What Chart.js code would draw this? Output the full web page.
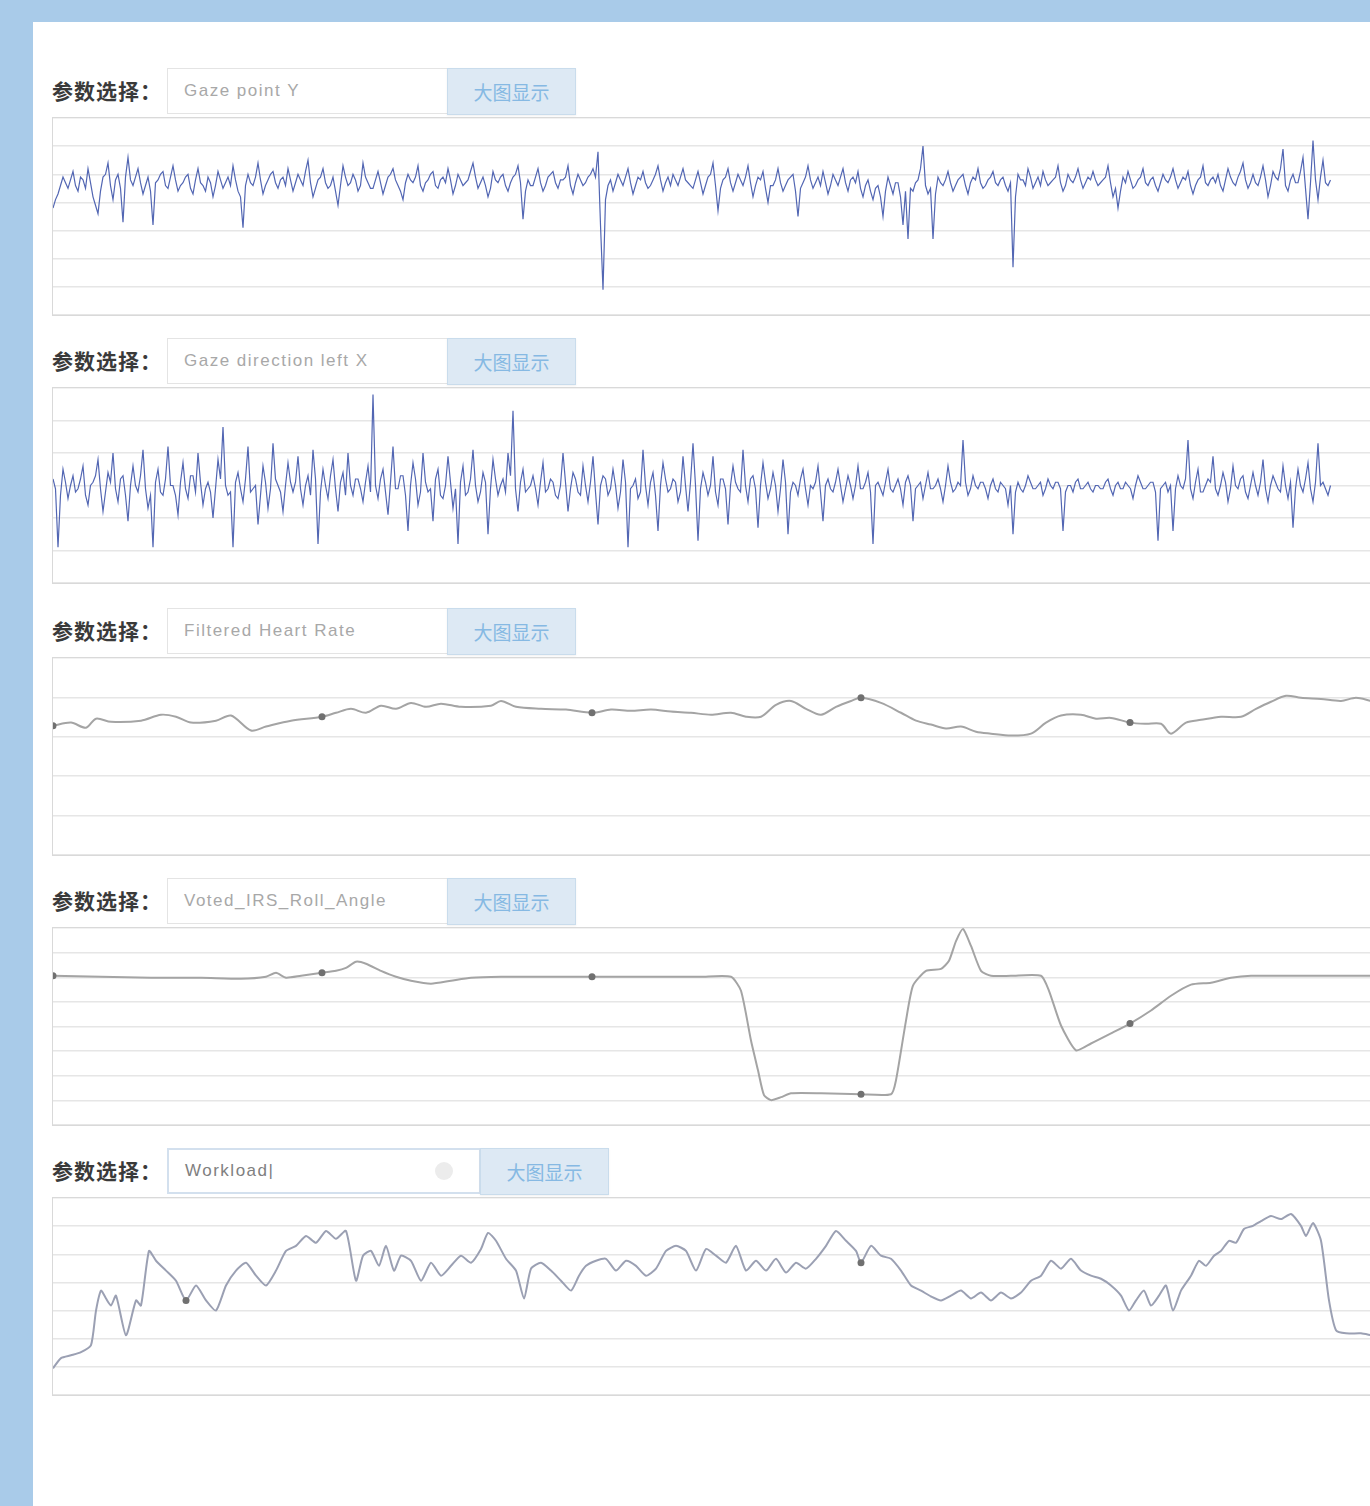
<!DOCTYPE html>
<html>
<head>
<meta charset="utf-8">
<script src="https://cdn.jsdelivr.net/npm/chart.js@4.4.1/dist/chart.umd.min.js"></script>
<style>
  html, body { margin:0; padding:0; overflow:hidden; }
  body { width:1370px; height:1506px; background:#a9cbe9; position:relative; font-family:"Liberation Sans", Arial, sans-serif; }
  #page { position:absolute; left:33px; top:22px; width:1400px; height:1500px; background:#ffffff; }
  .row { position:absolute; left:0; width:1400px; }
  .lbl { position:absolute; left:19px; top:0; height:46px; line-height:44px; font-family:"Noto Sans CJK SC", sans-serif; font-weight:bold; font-size:21px; letter-spacing:1px; color:#3a3a3a; }
  .inp { position:absolute; left:134px; top:0; width:279px; height:44px; border:1px solid #e4e4e4; border-right:none; box-sizing:content-box; line-height:44px; padding-left:16px; font-size:17px; letter-spacing:1.5px; color:#a8a8a8; background:#fff; }
  .btn { position:absolute; left:414px; top:0; width:127px; height:45px; border:1px solid #c9dcec; background:#dde9f4; text-align:center; line-height:45px; font-family:"Noto Sans CJK SC", sans-serif; font-size:19px; color:#86b9e3; box-shadow:0 1px 2px rgba(0,0,0,0.06); }
  .box { position:absolute; left:19px; top:49px; width:1360px; border:1px solid #d9d9d9; background:#fff; }
  .cw { position:relative; width:1318px; }
  .inp.sel { width:294px; border:2px solid #d3e0ee; height:42px; line-height:42px; color:#808080; }
  .clr { position:absolute; left:266px; top:12px; width:18px; height:18px; border-radius:50%; background:#ececec; }
  .btn.b5 { left:447px; }
</style>
</head>
<body>
<div id="page">
  <div class="row" style="top:46px">
    <div class="lbl">参数选择：</div>
    <div class="inp">Gaze point Y</div>
    <div class="btn">大图显示</div>
    <div class="box" style="height:197px"><div class="cw" style="height:197px"><canvas id="c1"></canvas></div></div>
  </div>
  <div class="row" style="top:316px">
    <div class="lbl">参数选择：</div>
    <div class="inp">Gaze direction left X</div>
    <div class="btn">大图显示</div>
    <div class="box" style="height:195px"><div class="cw" style="height:195px"><canvas id="c2"></canvas></div></div>
  </div>
  <div class="row" style="top:586px">
    <div class="lbl">参数选择：</div>
    <div class="inp">Filtered Heart Rate</div>
    <div class="btn">大图显示</div>
    <div class="box" style="height:197px"><div class="cw" style="height:197px"><canvas id="c3"></canvas></div></div>
  </div>
  <div class="row" style="top:856px">
    <div class="lbl">参数选择：</div>
    <div class="inp">Voted_IRS_Roll_Angle</div>
    <div class="btn">大图显示</div>
    <div class="box" style="height:197px"><div class="cw" style="height:197px"><canvas id="c4"></canvas></div></div>
  </div>
  <div class="row" style="top:1126px">
    <div class="lbl">参数选择：</div>
    <div class="inp sel">Workload|<span class="clr"></span></div>
    <div class="btn b5">大图显示</div>
    <div class="box" style="height:197px"><div class="cw" style="height:197px"><canvas id="c5"></canvas></div></div>
  </div>
</div>
<script>
// ---------- DATA ----------
const xMax = 1318;            // visible time span (frames)
const gazeStep = 2.5;         // sampling interval of the gaze channels (frames)

const gazePointY = [
3.8,4.1,4.3,4.6,4.9,4.7,4.5,4.8,5.1,4.6,4.4,4.9,4.8,4.5,5.2,4.7,4.2,3.9,3.6,4.4,4.9,5.0,5.4,4.6,4.1,4.8,5.0,4.5,3.3,4.9,5.6,4.8,
4.6,4.9,5.2,4.7,4.3,4.6,4.9,4.4,3.2,4.7,4.8,5.0,5.1,4.6,4.5,4.9,5.3,4.8,4.4,4.6,4.7,4.9,5.0,4.5,4.3,4.8,5.2,4.7,4.6,4.4,4.9,4.7,
4.2,4.6,5.1,4.8,4.5,4.7,4.9,4.6,5.3,4.8,4.4,4.2,3.1,4.6,5.0,4.7,4.6,4.9,5.4,4.8,4.3,4.6,4.8,5.0,5.1,4.7,4.5,4.8,4.9,4.6,5.2,4.8,
4.4,4.7,5.0,4.8,4.6,5.1,5.5,4.7,4.2,4.5,4.8,4.9,5.2,4.7,4.5,4.6,4.9,4.4,3.9,4.6,5.3,4.9,4.6,4.7,5.0,4.8,4.4,4.6,5.4,4.9,4.7,4.5,
4.5,4.8,5.1,4.7,4.3,4.6,4.9,5.0,5.2,4.8,4.6,4.4,4.1,4.7,5.0,4.8,4.7,4.9,5.3,4.6,4.4,4.7,4.8,5.0,5.1,4.6,4.5,4.8,4.9,4.7,5.2,4.8,
4.3,4.6,5.0,4.8,4.6,4.7,4.8,5.1,5.4,4.9,4.5,4.7,4.9,4.6,4.2,4.5,5.1,4.8,4.7,4.9,5.0,4.6,4.4,4.7,4.9,5.0,5.3,4.7,3.4,4.4,4.8,4.6,
4.6,4.9,5.2,4.7,4.4,4.6,4.9,5.0,5.1,4.7,4.5,4.8,4.8,4.9,5.3,4.6,4.3,4.7,5.0,4.8,4.6,4.7,4.9,5.0,5.2,4.9,5.8,3.2,0.9,4.1,4.6,4.8,
4.4,4.7,5.0,4.8,4.6,4.9,5.2,4.7,4.3,4.6,4.9,4.8,5.1,4.7,4.5,4.6,4.8,5.0,5.3,4.8,4.4,4.7,4.9,4.6,5.0,4.8,4.6,4.9,5.2,4.8,4.7,4.6,
4.5,4.8,5.1,4.7,4.3,4.6,4.9,5.0,5.4,4.6,3.7,4.5,4.8,4.9,5.2,4.7,4.4,4.7,5.0,4.8,4.6,4.9,5.3,4.7,4.2,4.6,4.9,4.8,5.1,4.5,4.0,4.6,
4.6,4.8,5.2,4.7,4.4,4.6,4.8,4.9,5.0,4.4,3.5,4.5,4.7,4.9,5.3,4.8,4.5,4.7,4.9,4.6,5.1,4.7,4.3,4.6,5.0,4.8,4.6,4.9,5.2,4.7,4.4,4.8,
4.9,4.7,5.1,4.5,4.2,4.6,4.8,4.4,4.1,4.5,4.6,4.2,3.5,4.4,4.9,4.6,4.3,4.7,4.7,4.2,3.2,4.4,2.7,4.5,4.4,4.7,4.8,5.2,6.0,4.6,4.3,4.5,
2.7,4.3,4.9,4.7,4.6,4.8,5.1,4.7,4.4,4.6,4.8,4.9,5.0,4.6,4.3,4.7,4.9,4.8,5.2,4.7,4.5,4.6,4.8,4.9,5.1,4.7,4.6,4.8,4.9,4.6,4.4,4.7,
1.7,4.2,5.0,4.8,4.8,4.6,5.2,4.9,4.5,4.7,4.9,4.6,5.1,4.8,4.6,4.7,4.8,4.9,5.3,4.7,4.4,4.6,5.0,4.8,4.7,4.9,5.2,4.8,4.5,4.7,4.9,4.8,
5.1,4.8,4.6,4.7,4.8,4.9,5.3,4.7,4.2,4.5,3.8,4.4,4.9,4.7,5.1,4.8,4.5,4.6,4.8,4.9,5.2,4.7,4.6,4.8,4.9,4.6,4.4,4.7,5.0,4.8,4.7,4.9,
5.2,4.8,4.5,4.7,4.9,4.8,5.1,4.6,4.3,4.6,4.8,4.9,5.3,4.7,4.6,4.8,4.9,4.7,5.0,4.6,4.4,4.8,5.2,4.9,4.7,4.6,4.9,5.1,5.4,4.8,4.5,4.7,
5.0,4.7,4.6,4.9,5.3,4.8,4.2,4.6,5.1,4.9,4.8,5.2,5.9,4.6,4.4,4.8,5.0,4.7,4.7,5.1,5.6,4.5,3.4,4.7,6.2,4.8,4.1,4.9,5.5,4.7,4.6,4.8
];

const gazeDirLeftX = [
3.2,2.9,1.1,2.7,3.5,3.1,2.6,3.0,3.3,2.8,2.9,3.2,3.6,2.7,2.4,3.0,3.1,3.3,3.8,2.9,2.2,2.8,3.4,3.1,4.0,2.9,2.5,3.2,3.3,2.7,1.9,3.0,
3.6,3.0,2.8,3.3,4.1,2.9,2.3,2.7,1.1,3.1,3.5,2.8,2.7,3.2,4.2,3.0,3.0,2.7,2.1,3.1,3.7,2.9,2.6,3.3,3.3,2.8,4.0,3.1,2.4,2.9,3.1,2.8,
2.0,2.9,3.8,3.2,4.8,3.0,2.7,2.8,1.1,3.1,3.4,2.9,2.5,3.2,4.2,2.8,2.9,3.0,1.8,2.7,3.6,3.1,2.3,2.9,4.3,3.2,3.0,2.8,2.2,3.0,3.7,3.1,
2.8,3.1,3.9,2.9,2.4,3.0,3.3,2.7,4.1,3.2,1.2,2.8,3.5,3.0,2.6,3.3,3.8,2.9,2.2,3.1,3.4,2.7,4.0,3.0,2.7,3.2,3.2,2.9,2.5,3.1,3.6,2.8,
5.8,3.0,2.6,3.2,3.5,2.8,2.1,3.1,4.2,2.9,2.9,3.3,3.3,2.7,1.6,3.0,3.7,3.2,2.4,2.8,4.0,3.1,2.8,2.9,1.9,3.2,3.5,2.7,2.6,3.0,3.9,3.1,
2.3,2.9,1.2,3.1,3.6,2.7,2.8,3.2,4.1,3.0,2.5,2.8,3.4,3.1,1.5,2.9,3.8,3.2,2.7,3.0,3.2,2.8,4.0,3.3,5.3,2.9,2.2,3.1,3.5,2.8,2.9,3.0,
3.3,2.9,2.4,3.1,3.7,2.8,2.9,3.2,3.1,2.7,2.6,3.0,4.0,3.1,2.2,2.9,3.4,3.2,2.8,2.7,3.6,3.0,2.5,3.1,3.9,2.8,1.8,3.0,3.3,3.2,2.7,2.9,
3.5,3.0,2.3,2.8,3.8,3.1,1.1,2.9,3.0,3.2,2.6,2.8,4.1,3.0,2.4,3.1,3.4,2.7,1.6,3.0,3.7,3.2,2.8,2.9,3.2,3.1,2.5,2.8,3.9,3.0,2.2,3.1,
4.3,3.0,1.3,2.9,3.4,3.1,2.7,3.0,3.9,2.8,2.4,3.2,3.2,2.9,1.8,3.0,3.6,3.1,2.9,2.8,4.1,3.0,2.5,3.2,3.3,2.9,1.7,3.0,3.7,3.1,2.6,2.9,
3.4,3.0,2.2,2.9,3.8,3.1,1.5,2.8,3.1,3.0,2.7,3.2,3.5,2.9,2.4,3.0,2.9,3.1,3.6,2.8,1.9,3.0,3.2,2.9,2.8,3.1,3.5,3.0,2.5,2.9,3.3,3.0,
2.6,3.0,3.6,2.9,2.9,3.1,3.4,2.8,1.2,3.0,3.1,2.9,2.7,3.1,3.5,2.9,2.8,3.0,3.2,2.9,2.4,3.1,3.3,3.0,1.9,2.9,3.0,3.1,2.6,3.0,3.4,2.9,
2.9,3.0,3.2,2.9,2.5,3.0,3.6,3.1,2.8,2.9,3.1,3.0,4.4,3.1,2.7,2.9,3.3,3.0,2.9,3.1,3.1,2.9,2.6,3.0,3.2,2.9,2.8,3.1,3.0,2.9,2.4,3.0,
1.5,2.8,3.1,2.9,2.8,3.0,3.3,3.1,2.9,2.9,3.0,3.1,2.7,2.9,3.2,3.0,2.9,3.1,3.1,2.9,1.6,2.8,3.0,3.0,2.8,3.1,3.2,2.9,2.9,3.0,3.1,2.9,
2.8,3.0,3.0,2.9,2.9,3.1,3.2,2.9,2.7,3.0,3.1,2.9,2.9,3.1,3.0,2.9,2.6,3.0,3.3,3.1,2.9,2.9,3.0,3.1,3.1,2.8,1.3,2.9,3.0,3.1,2.8,3.0,
1.6,2.9,3.3,3.0,2.9,3.2,4.4,2.9,2.6,3.1,3.5,2.8,2.8,3.0,3.2,3.1,3.9,2.9,2.7,3.0,3.4,3.1,2.5,2.9,3.6,3.0,2.9,3.2,3.3,2.8,2.6,3.0,
3.4,3.0,2.7,3.1,3.8,2.9,2.5,3.0,3.3,3.1,2.9,2.8,3.6,3.0,2.6,3.1,1.7,2.9,3.5,3.0,2.8,3.2,3.7,2.9,2.5,3.1,4.3,3.0,3.1,2.9,2.7,3.0
];

const hrTime = [0,18,33,43,58,88,108,123,138,163,178,198,213,238,269,283,298,313,328,343,358,373,388,408,438,448,463,488,513,539,558,578,598,618,638,658,678,693,708,723,738,753,768,783,798,808,828,848,863,878,893,908,923,938,958,978,993,1008,1028,1043,1058,1077,1093,1108,1118,1133,1148,1168,1188,1203,1218,1233,1248,1268,1288,1303,1318];
const hrValues = [3.28,3.36,3.23,3.46,3.38,3.41,3.56,3.51,3.36,3.41,3.54,3.16,3.26,3.41,3.51,3.61,3.71,3.61,3.79,3.71,3.86,3.76,3.84,3.76,3.79,3.91,3.76,3.71,3.69,3.61,3.69,3.66,3.69,3.64,3.61,3.56,3.61,3.51,3.51,3.81,3.91,3.71,3.56,3.76,3.91,3.99,3.86,3.61,3.41,3.31,3.21,3.26,3.13,3.08,3.03,3.08,3.36,3.54,3.56,3.46,3.48,3.36,3.33,3.33,3.08,3.36,3.43,3.51,3.51,3.71,3.89,4.04,3.99,3.96,3.91,3.99,3.91];
const hrMarkers = [0,269,539,808,1077];

const rollTime = [0,48,98,148,188,213,223,233,248,269,283,293,303,313,328,343,358,378,398,418,448,488,539,598,648,678,688,698,705,711,718,728,738,768,808,838,843,853,860,873,888,896,903,910,918,928,938,958,988,996,1008,1023,1038,1058,1077,1098,1118,1138,1158,1178,1198,1248,1318];
const rollValues = [6.06,6.02,5.98,5.98,5.94,6.02,6.18,5.98,6.06,6.18,6.26,6.38,6.63,6.55,6.26,6.02,5.86,5.74,5.86,5.98,6.02,6.02,6.02,6.02,6.02,6.02,5.45,3.43,2.22,1.21,1.01,1.13,1.29,1.29,1.25,1.25,1.82,4.24,5.66,6.26,6.34,6.67,7.47,7.96,7.27,6.26,6.06,6.06,6.06,5.45,4.04,3.03,3.31,3.72,4.12,4.65,5.25,5.70,5.78,5.98,6.06,6.06,6.06];
const rollMarkers = [0,269,539,808,1077];

const workloadTime = [0,8,18,28,38,43,48,53,58,63,73,83,88,96,103,113,123,133,143,153,163,173,183,193,203,213,223,233,243,253,263,273,283,293,303,310,318,326,333,341,348,358,368,378,388,398,408,418,428,435,443,453,463,471,478,488,498,508,518,526,533,543,553,563,573,583,593,603,613,623,633,643,653,663,673,683,693,703,713,723,733,743,753,763,773,783,793,803,808,818,828,838,848,858,868,878,888,898,908,918,928,938,948,958,968,978,988,998,1008,1018,1028,1038,1048,1058,1068,1076,1083,1091,1098,1106,1113,1120,1128,1138,1146,1153,1161,1168,1176,1183,1191,1200,1208,1218,1228,1238,1248,1253,1260,1268,1276,1283,1293,1308,1318];
const workloadValues = [0.95,1.31,1.41,1.52,1.77,3.00,3.71,3.43,3.18,3.53,2.12,3.36,3.18,5.12,4.77,4.42,4.06,3.36,3.89,3.36,3.00,3.89,4.42,4.70,4.24,3.89,4.42,5.12,5.30,5.65,5.41,5.83,5.55,5.83,4.06,4.95,5.12,4.59,5.30,4.42,4.95,4.77,4.06,4.70,4.24,4.59,4.95,4.70,5.19,5.76,5.48,4.84,4.42,3.43,4.49,4.70,4.42,4.06,3.71,4.24,4.59,4.77,4.84,4.42,4.77,4.59,4.24,4.49,5.12,5.30,5.12,4.42,5.19,4.95,4.70,5.30,4.42,4.77,4.42,4.84,4.35,4.70,4.49,4.84,5.30,5.83,5.48,5.12,4.70,5.30,4.95,4.84,4.42,3.89,3.71,3.50,3.36,3.53,3.71,3.43,3.64,3.36,3.64,3.43,3.64,4.06,4.24,4.77,4.49,4.84,4.42,4.24,4.13,3.89,3.53,3.00,3.36,3.71,3.18,3.53,3.89,3.00,3.71,4.24,4.77,4.59,4.95,5.12,5.48,5.41,5.90,6.01,6.18,6.36,6.25,6.43,6.01,5.65,6.11,5.48,3.36,2.30,2.19,2.19,2.12];
const workloadMarkers = [133,808];

// ---------- CHARTS ----------
function pairs(times, vals){ return vals.map((v,i)=>({x:times[i], y:v})); }
function sampled(vals, step){ return vals.map((v,i)=>({x:i*step, y:v})); }

function makeChart(id, data, yMax, color, width, markers, tension){
  new Chart(document.getElementById(id), {
    type:'line',
    data:{ datasets:[{
      data:data,
      borderColor:color,
      borderWidth:width,
      tension:tension,
      clip:false,
      pointRadius: ctx => (markers && ctx.raw && markers.includes(ctx.raw.x)) ? 3.5 : 0,
      pointBackgroundColor:'#707070',
      pointBorderColor:'#707070',
      pointBorderWidth:0
    }]},
    options:{
      responsive:true, maintainAspectRatio:false, animation:false,
      layout:{padding:0, autoPadding:false},
      plugins:{legend:{display:false}, tooltip:{enabled:false}},
      scales:{
        x:{type:'linear', min:0, max:xMax, display:false},
        y:{min:0, max:yMax, display:true,
           ticks:{display:false, stepSize:1},
           grid:{color:'#e6e6e6', lineWidth:1.5, drawTicks:false},
           border:{display:false}}
      }
    }
  });
}

makeChart('c1', sampled(gazePointY, gazeStep), 7, '#5266b3', 1.2, null, 0);
makeChart('c2', sampled(gazeDirLeftX, gazeStep), 6, '#5266b3', 1.2, null, 0);
makeChart('c3', pairs(hrTime, hrValues), 5, '#a4a4a4', 2, hrMarkers, 0.3);
makeChart('c4', pairs(rollTime, rollValues), 8, '#a4a4a4', 2, rollMarkers, 0.2);
makeChart('c5', pairs(workloadTime, workloadValues), 7, '#9ba0b3', 2, workloadMarkers, 0.2);
</script>
</body>
</html>
